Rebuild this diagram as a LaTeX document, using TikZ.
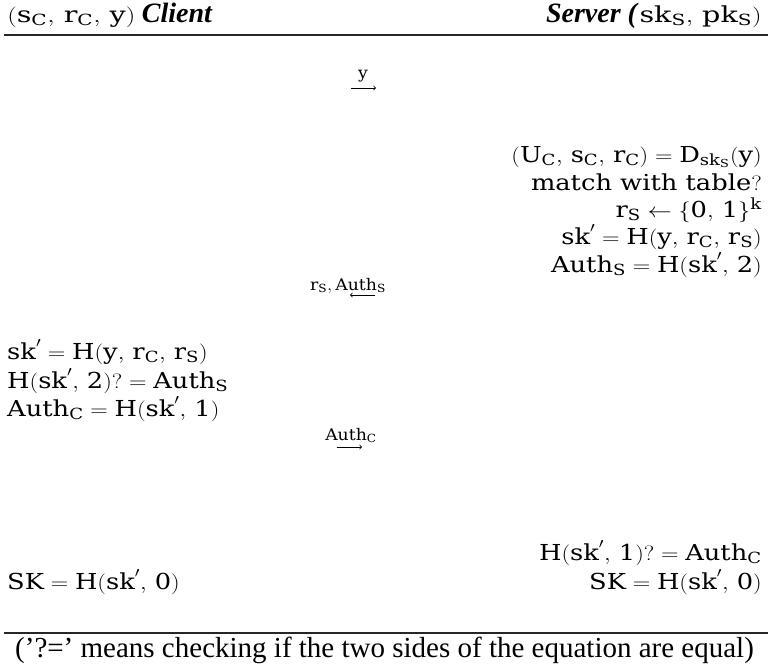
\documentclass[tikz,border=0pt]{standalone}
\usepackage{fontspec}
\setmainfont{DejaVu Serif}
\newfontfamily\notefont{Liberation Serif}
\begin{document}
\begin{tikzpicture}[x=1pt,y=-1pt,
  txt/.style={inner sep=0pt,xscale=1.17,font=\fontsize{22}{27}\selectfont},
  hdr/.style={inner sep=0pt,xscale=1.3,font=\fontsize{22}{27}\selectfont},
  lbl/.style={inner sep=0pt,xscale=1.08,font=\fontsize{16}{19}\selectfont},
  role/.style={inner sep=0pt,font=\notefont\fontsize{28}{32}\selectfont\bfseries\itshape},
  note/.style={inner sep=0pt,font=\notefont\fontsize{29}{32}\selectfont},
  rule/.style={line width=1.3pt,black!85},
  msg/.style={line width=0.8pt,-to}]
\useasboundingbox (0,0) rectangle (768,665);
% header
\node[hdr,anchor=base west] (hcm) at (7,22) {$\mathrm{(s_C,\,r_C,\,y)}$};
\node[role,anchor=base west] (hct) at ([xshift=6pt]hcm.base east) {Client};
\node[hdr,anchor=base east] (hsm) at (762,22) {$\mathrm{sk_S,\,pk_S)}$};
\node[role,anchor=base east] (hst) at ([xshift=-2pt]hsm.base west) {Server (};
\coordinate (r1a) at (4,35); \coordinate (r1b) at (768,35);
\draw[rule] (r1a) -- (r1b);
% message 1
\node[lbl,anchor=base] (m1) at (363,78) {$\mathrm{y}$};
\coordinate (a1s) at (351,88); \coordinate (a1e) at (376,88);
\draw[msg] (a1s) -- (a1e);
% server block
\node[txt,anchor=base east] (s1) at (762,162) {$\mathrm{(U_C,\,s_C,\,r_C)=D_{sk_S}(y)}$};
\node[txt,anchor=base east] (s2) at (762,190) {$\mathrm{match\ with\ table?}$};
\node[txt,anchor=base east] (s3) at (762,217) {$\mathrm{r_S\leftarrow\{0,\,1\}^k}$};
\node[txt,anchor=base east] (s4) at (762,244) {$\mathrm{sk'=H(y,\,r_C,\,r_S)}$};
\node[txt,anchor=base east] (s5) at (762,272) {$\mathrm{Auth_S=H(sk',\,2)}$};
% message 2
\node[lbl,anchor=base] (m2) at (348,290) {$\mathrm{r_S,Auth_S}$};
\coordinate (a2s) at (375,295); \coordinate (a2e) at (350,295);
\draw[msg] (a2s) -- (a2e);
% client block
\node[txt,anchor=base west] (c1) at (7,359) {$\mathrm{sk'=H(y,\,r_C,\,r_S)}$};
\node[txt,anchor=base west] (c2) at (7,388) {$\mathrm{H(sk',\,2)?=Auth_S}$};
\node[txt,anchor=base west] (c3) at (7,416) {$\mathrm{Auth_C=H(sk',\,1)}$};
% message 3
\node[lbl,anchor=base] (m3) at (351,440) {$\mathrm{Auth_C}$};
\coordinate (a3s) at (337,447); \coordinate (a3e) at (362,447);
\draw[msg] (a3s) -- (a3e);
% final
\node[txt,anchor=base east] (s6) at (762,560) {$\mathrm{H(sk',\,1)?=Auth_C}$};
\node[txt,anchor=base west] (c4) at (7,589) {$\mathrm{SK=H(sk',\,0)}$};
\node[txt,anchor=base east] (s7) at (762,589) {$\mathrm{SK=H(sk',\,0)}$};
\coordinate (r2a) at (4,633); \coordinate (r2b) at (768,633);
\draw[rule] (r2a) -- (r2b);
\node[note,anchor=base west] (nt) at (15,657) {(’?=’ means checking if the two sides of the equation are equal)};
\end{tikzpicture}
\end{document}
